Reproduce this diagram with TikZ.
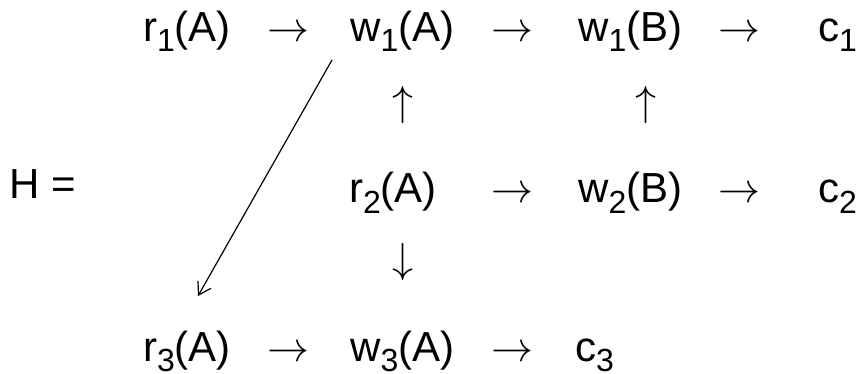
\documentclass[tikz,border=0pt]{standalone}
\usepackage{fontspec}
\setmainfont{Liberation Sans}
\DeclareFontShape{OMS}{cmsy}{m}{n}{<-> cmsy10}{}
\usetikzlibrary{arrows.meta}
\newcommand\sbx[1]{\raisebox{-10pt}{\fontsize{32}{32}\selectfont #1}}
\tikzset{
  lbl/.style={inner sep=0pt, anchor=base west, font=\fontsize{42}{50}\selectfont},
  lble/.style={lbl, anchor=base east},
  harr/.style={inner sep=0pt, anchor=base, font=\fontsize{42}{50}\selectfont},
  varr/.style={inner sep=0pt, anchor=center, font=\fontsize{42}{50}\selectfont},
  conn/.style={line width=1.2pt, -{Straight Barb[length=12pt,width=15pt]}}
}
\begin{document}
\begin{tikzpicture}[x=1pt,y=-1pt]
\useasboundingbox (0,0) rectangle (864,374);
% row 1
\node[lble] (r1A) at (231,42) {r\sbx{1}(A)};
\node[harr] (a11) at (288,42) {$\rightarrow$};
\node[lbl] (w1A) at (350,42) {w\sbx{1}(A)};
\node[harr] (a12) at (512,42) {$\rightarrow$};
\node[lbl] (w1B) at (578,42) {w\sbx{1}(B)};
\node[harr] (a13) at (739,42) {$\rightarrow$};
\node[lbl] (c1) at (818,42) {c\sbx{1}};
% vertical arrows
\node[varr] (u1) at (403,105) {$\uparrow$};
\node[varr] (u2) at (646,105) {$\uparrow$};
% row 2
\node[lbl] (H) at (9,198) {H =};
\node[lbl] (r2A) at (349,203) {r\sbx{2}(A)};
\node[harr] (a21) at (512,203) {$\rightarrow$};
\node[lbl] (w2B) at (578,203) {w\sbx{2}(B)};
\node[harr] (a22) at (739,203) {$\rightarrow$};
\node[lbl] (c2) at (818,203) {c\sbx{2}};
\node[varr] (d1v) at (403,262) {$\downarrow$};
% row 3
\node[lble] (r3A) at (231,361) {r\sbx{3}(A)};
\node[harr] (a31) at (288,361) {$\rightarrow$};
\node[lbl] (w3A) at (350,361) {w\sbx{3}(A)};
\node[harr] (a32) at (512,361) {$\rightarrow$};
\node[lbl] (c3) at (575,361) {c\sbx{3}};
% diagonal connector
\coordinate (dstart) at (332,60);
\coordinate (dend) at (198,296);
\draw[conn] (dstart) -- (dend);
\end{tikzpicture}
\end{document}
